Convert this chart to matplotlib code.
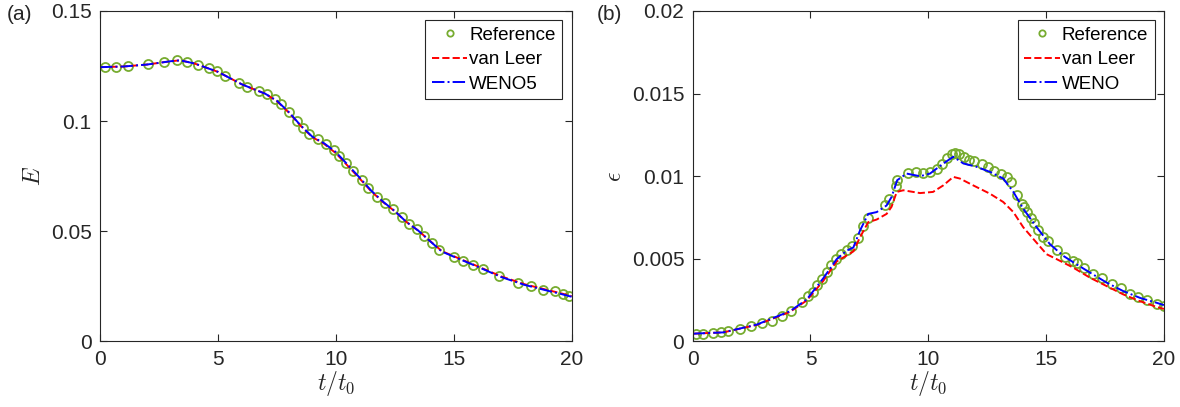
import matplotlib.pyplot as plt

plt.rcParams['font.family'] = ['Liberation Sans', 'DejaVu Sans']
plt.rcParams['mathtext.fontset'] = 'cm'

# (a) kinetic energy E(t)
ref_t_E = [0.21, 0.68, 1.20, 2.02, 2.71, 3.25, 3.70, 4.17, 4.62, 4.95, 5.31, 5.89, 6.23, 6.76,
           7.07, 7.42, 7.67, 8.00, 8.34, 8.59, 8.88, 9.23, 9.57, 9.92, 10.15, 10.43, 10.74,
           11.10, 11.38, 11.76, 12.08, 12.41, 12.79, 13.10, 13.43, 13.74, 14.06, 14.39, 15.02,
           15.41, 15.83, 16.25, 16.93, 17.74, 18.26, 18.80, 19.29, 19.62, 19.89]
ref_E = [0.1246, 0.1246, 0.1249, 0.1258, 0.1269, 0.1276, 0.1270, 0.1257, 0.1242, 0.1227,
         0.1205, 0.1175, 0.1154, 0.1137, 0.1121, 0.1100, 0.1077, 0.1042, 0.1000, 0.0971,
         0.0941, 0.0917, 0.0896, 0.0869, 0.0841, 0.0811, 0.0775, 0.0733, 0.0698, 0.0657,
         0.0627, 0.0600, 0.0563, 0.0533, 0.0509, 0.0479, 0.0449, 0.0415, 0.0385, 0.0366,
         0.0347, 0.0328, 0.0295, 0.0264, 0.0252, 0.0234, 0.0227, 0.0216, 0.0208]

t_E = [0, 1, 2, 3, 3.4, 4, 5, 6, 6.5, 7, 7.5, 8, 8.5, 9, 9.5, 10, 10.5, 11, 11.5, 12,
       12.5, 13, 13.5, 14, 14.5, 15, 16, 17, 18, 19, 19.5, 20]
vanleer_E = [0.1245, 0.1248, 0.1257, 0.1272, 0.1276, 0.1262, 0.1224, 0.1168, 0.1146, 0.1125,
             0.1091, 0.1040, 0.0980, 0.0928, 0.0897, 0.0855, 0.0798, 0.0741, 0.0682, 0.0633,
             0.0591, 0.0542, 0.0503, 0.0456, 0.0410, 0.0387, 0.0342, 0.0296, 0.0260, 0.0233,
             0.0220, 0.0206]
weno5_E = [0.1245, 0.1248, 0.1257, 0.1272, 0.1276, 0.1262, 0.1224, 0.1168, 0.1146, 0.1125,
           0.1093, 0.1042, 0.0982, 0.0930, 0.0900, 0.0860, 0.0803, 0.0745, 0.0685, 0.0635,
           0.0592, 0.0542, 0.0503, 0.0455, 0.0408, 0.0385, 0.0340, 0.0293, 0.0257, 0.0230,
           0.0217, 0.0203]

# (b) dissipation rate epsilon(t)
ref_t_eps = [0.14, 0.42, 0.85, 1.19, 1.51, 2.01, 2.46, 2.93, 3.37, 3.78, 4.16, 4.64, 4.91,
             5.09, 5.26, 5.47, 5.69, 5.86, 6.07, 6.28, 6.53, 6.78, 7.03, 7.21, 7.43, 8.15,
             8.33, 8.61, 8.66, 9.15, 9.48, 9.76, 10.07, 10.35, 10.57, 10.78, 10.99, 11.13,
             11.32, 11.51, 11.74, 11.94, 12.26, 12.55, 12.80, 13.08, 13.32, 13.49, 13.75,
             13.96, 14.06, 14.17, 14.34, 14.48, 14.67, 14.88, 15.06, 15.47, 15.79, 16.15,
             16.29, 16.62, 17.00, 17.38, 17.78, 18.16, 18.56, 18.91, 19.29, 19.69, 20.0]
ref_eps = [0.00045, 0.00047, 0.00053, 0.00057, 0.00061, 0.00073, 0.00091, 0.00110, 0.00126,
           0.00152, 0.00187, 0.00238, 0.00274, 0.00301, 0.00341, 0.00376, 0.00423, 0.00463,
           0.00498, 0.00528, 0.00553, 0.00579, 0.00626, 0.00701, 0.00748, 0.00823, 0.00864,
           0.00939, 0.00976, 0.01022, 0.01026, 0.01022, 0.01026, 0.01041, 0.01071, 0.01108,
           0.01132, 0.01138, 0.01132, 0.01114, 0.01098, 0.01091, 0.01073, 0.01057, 0.01033,
           0.01016, 0.00996, 0.00965, 0.00884, 0.00833, 0.00813, 0.00783, 0.00748, 0.00715,
           0.00675, 0.00634, 0.00606, 0.00553, 0.00512, 0.00488, 0.00472, 0.00447, 0.00411,
           0.00382, 0.00350, 0.00321, 0.00289, 0.00268, 0.00248, 0.00228, 0.00213]

t_weno = [0.0, 1.3, 2.72, 4.13, 4.84, 5.54, 6.11, 6.53, 6.82, 7.10, 7.45, 7.81, 8.23, 8.44,
          8.68, 9.08, 9.65, 10.07, 10.64, 11.06, 11.49, 12.05, 12.62, 13.18, 13.61, 14.03,
          14.60, 15.16, 15.73, 16.29, 16.86, 17.57, 18.27, 18.98, 19.69, 20.0]
weno_eps = [0.00047, 0.00055, 0.00102, 0.00183, 0.00254, 0.00382, 0.00498, 0.00549, 0.00569,
            0.00671, 0.00772, 0.00783, 0.00823, 0.00874, 0.00976, 0.01016, 0.01000, 0.01016,
            0.01077, 0.01118, 0.01077, 0.01057, 0.01026, 0.00986, 0.00905, 0.00803, 0.00691,
            0.00589, 0.00518, 0.00467, 0.00417, 0.00356, 0.00305, 0.00264, 0.00234, 0.00220]

t_vl = [0.0, 1.3, 2.72, 4.13, 4.84, 5.54, 6.11, 6.82, 7.10, 7.45, 7.81, 8.23, 8.44, 8.66,
        8.94, 9.65, 10.2, 10.64, 11.06, 11.34, 11.9, 12.62, 13.18, 13.61, 14.03, 14.46,
        15.02, 15.45, 16.15, 16.86, 17.57, 18.27, 18.98, 19.69, 20.0]
vanleer_eps = [0.00047, 0.00055, 0.00100, 0.00179, 0.00248, 0.00366, 0.00484, 0.00545,
               0.00630, 0.00722, 0.00738, 0.00772, 0.00815, 0.00905, 0.00915, 0.00898,
               0.00905, 0.00945, 0.00996, 0.00986, 0.00945, 0.00894, 0.00844, 0.00783,
               0.00691, 0.00620, 0.00528, 0.00498, 0.00447, 0.00386, 0.00335, 0.00285,
               0.00244, 0.00209, 0.00197]

green = '#77AC30'
grey = '#262626'

fig = plt.figure(figsize=(11.8, 4.07), dpi=100)
ax1 = fig.add_axes([0.0847, 0.161, 0.3997, 0.812])
ax2 = fig.add_axes([0.587, 0.161, 0.3994, 0.812])


def style(ax, ymax, yticks, yticklabels):
    ax.set_xlim(0, 20)
    ax.set_ylim(0, ymax)
    ax.set_xticks([0, 5, 10, 15, 20])
    ax.set_xticklabels(['0', '5', '10', '15', '20'])
    ax.set_yticks(yticks)
    ax.set_yticklabels(yticklabels)
    ax.tick_params(direction='in', top=True, right=True, length=5, width=0.8,
                   labelsize=15, colors=grey, pad=6)
    for s in ax.spines.values():
        s.set_color(grey)
        s.set_linewidth(0.8)
    ax.set_xlabel(r'$t/t_0$', fontsize=17, color=grey, labelpad=0)
    leg = ax.legend(loc='upper right', fontsize=13.5, fancybox=False, framealpha=1,
                    edgecolor=grey, borderaxespad=0.5, handlelength=1.9,
                    handletextpad=0.1, borderpad=0.35, labelspacing=0.38, markerscale=0.7)
    leg.get_frame().set_linewidth(0.8)


ax1.plot(ref_t_E, ref_E, 'o', mfc='none', mec=green, ms=6.5, mew=1.3, label='Reference')
ax1.plot(t_E, vanleer_E, '--', color='r', lw=1.4, label='van Leer')
ax1.plot(t_E, weno5_E, '-.', color='b', lw=1.4, label='WENO5')
style(ax1, 0.15, [0, 0.05, 0.1, 0.15], ['0', '0.05', '0.1', '0.15'])
ax1.set_ylabel(r'$E$', fontsize=17, color=grey, labelpad=4)

ax2.plot(ref_t_eps, ref_eps, 'o', mfc='none', mec=green, ms=6.5, mew=1.3, label='Reference')
ax2.plot(t_vl, vanleer_eps, '--', color='r', lw=1.4, label='van Leer')
ax2.plot(t_weno, weno_eps, '-.', color='b', lw=1.4, label='WENO')
style(ax2, 0.02, [0, 0.005, 0.01, 0.015, 0.02], ['0', '0.005', '0.01', '0.015', '0.02'])
ax2.set_ylabel(r'$\epsilon$', fontsize=17, color=grey, labelpad=4)

fig.text(0.006, 0.95, '(a)', fontsize=15, color=grey)
fig.text(0.506, 0.95, '(b)', fontsize=15, color=grey)

fig.savefig('out.png', dpi=100)
